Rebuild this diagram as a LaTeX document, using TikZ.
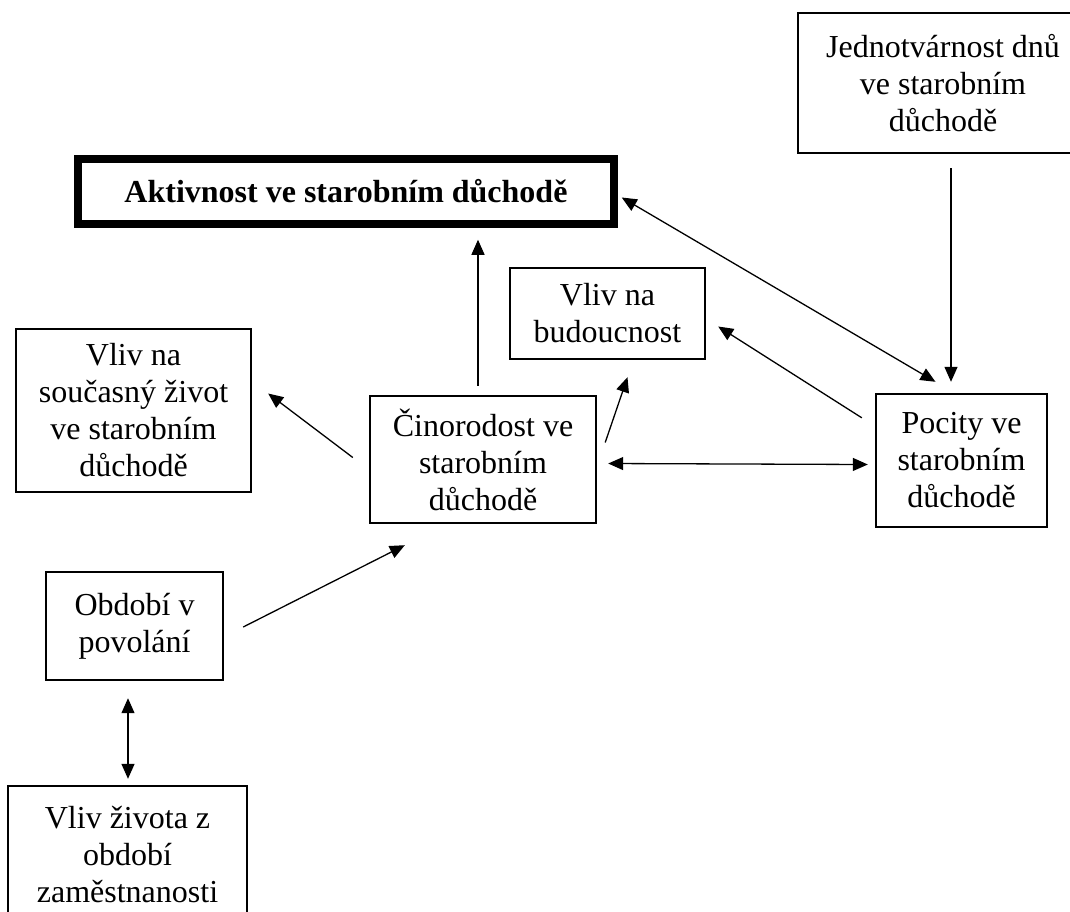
\documentclass[tikz,border=0pt]{standalone}
\usepackage{fontspec}
\setmainfont{Liberation Serif}
\usetikzlibrary{arrows.meta, calc}

\begin{document}
\begin{tikzpicture}[x=1pt, y=-1pt,
    blok/.style={draw, line width=2.4pt, align=center, inner sep=0pt, font=\fontsize{32}{37}\selectfont},
    sipka/.style={line width=1.3pt, -{Triangle[length=15pt, width=13pt]}},
    obousmer/.style={line width=1.3pt, {Triangle[length=15pt, width=13pt]}-{Triangle[length=15pt, width=13pt]}}]
    \useasboundingbox (0,0) rectangle (1070,911);
    \fill[white] (0,0) rectangle (1070,911);
    \clip (0,0) rectangle (1070,911);
    % boxes
    \node[blok, minimum width=290pt, minimum height=140pt] (jed) at (943,83) {Jednotvárnost dnů\\ve starobním\\důchodě};
    \node[blok, line width=7.5pt, minimum width=536pt, minimum height=65pt, font=\fontsize{32}{37}\selectfont\bfseries] (akt) at (346,191.5) {Aktivnost ve starobním důchodě};
    \node[blok, minimum width=195pt, minimum height=91pt] (bud) at (607.5,313.5) {Vliv na\\budoucnost};
    \node[blok, minimum width=235pt, minimum height=163pt] (soc) at (133.5,410.5) {Vliv na\\současný život\\ve starobním\\důchodě};
    \node[blok, minimum width=226pt, minimum height=127pt] (cin) at (483,459.5) {Činorodost ve\\starobním\\důchodě};
    \node[blok, minimum width=171pt, minimum height=133pt] (poc) at (961.5,460.5) {Pocity ve\\starobním\\důchodě};
    \node[blok, minimum width=177pt, minimum height=108pt] (obd) at (134.5,626) {Období v\\povolání};
    \node[blok, minimum width=239pt, minimum height=138pt] (viv) at (127.5,855) {Vliv života z\\období\\zaměstnanosti};
    % arrows
    \draw[sipka] ($(cin.north)+(-5,-9)$) -- ($(akt.south)+(132,12)$);
    \draw[obousmer] ($(akt.east)+(4,6)$) -- ($(poc.north)+(-26,-11)$);
    \draw[sipka] ($(jed.south)+(8,14)$) -- ($(poc.north)+(-10.5,-11)$);
    \draw[sipka] ($(poc.north west)+(-13,25)$) -- ($(bud.east)+(12,13)$);
    \draw[sipka] ($(cin.east)+(8,-17)$) -- ($(bud.south)+(20,17)$);
    \draw[obousmer] ($(cin.east)+(11,4)$) -- ($(poc.west)+(-7,4)$);
    \draw[sipka] ($(cin.west)+(-16,-2)$) -- ($(soc.east)+(16,-17)$);
    \draw[sipka] ($(obd.east)+(19,1)$) -- ($(cin.south west)+(36,21)$);
    \draw[obousmer] ($(obd.south)+(-6.5,17)$) -- ($(viv.north)+(0.5,-6)$);
\end{tikzpicture}
\end{document}
